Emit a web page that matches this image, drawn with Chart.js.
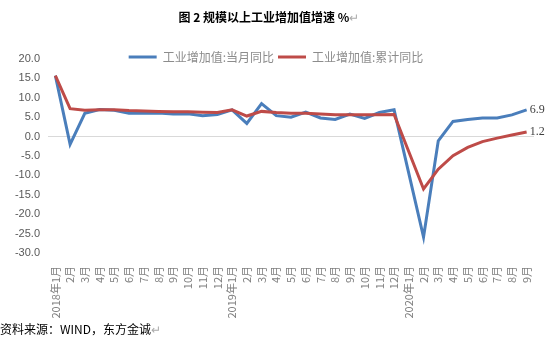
<!DOCTYPE html>
<html>
<head>
<meta charset="utf-8">
<script src="https://cdn.jsdelivr.net/npm/chart.js@4/dist/chart.umd.min.js"></script>
<style>
  body { margin: 0; background: #fff; }
  #wrap { position: relative; width: 550px; height: 361px; }
  #title { position: absolute; left: 0; top: 9px; width: 538px; text-align: center;
           font: bold 12px "Noto Sans CJK SC", sans-serif; line-height: 16px; color: #000; }
  #source { position: absolute; left: 0; top: 321px;
            font: 12px "Noto Sans CJK SC", sans-serif; line-height: 16px; color: #000; }
  .mark { color: #aaa; font-weight: normal; }
</style>
</head>
<body>
<div id="wrap">
  <canvas id="chart" width="550" height="361"></canvas>
  <div id="title">图 2 规模以上工业增加值增速 %<span class="mark">↵</span></div>
  <div id="source">资料来源：WIND，东方金诚<span class="mark">↵</span></div>
</div>
<script>
// 横轴月份
const months = [
    '2018年1月', '2月', '3月', '4月', '5月', '6月', '7月', '8月', '9月', '10月', '11月', '12月',
    '2019年1月', '2月', '3月', '4月', '5月', '6月', '7月', '8月', '9月', '10月', '11月', '12月',
    '2020年1月', '2月', '3月', '4月', '5月', '6月', '7月', '8月', '9月'
];

// 工业增加值:当月同比
const monthlyYoY = [
    15.7, -2.0, 6.0, 7.0, 6.8, 6.0, 6.0, 6.1, 5.8, 5.9, 5.4, 5.7,
    6.9, 3.4, 8.5, 5.4, 5.0, 6.3, 4.8, 4.4, 5.8, 4.7, 6.2, 6.9,
    null, -25.9, -1.1, 3.9, 4.4, 4.8, 4.8, 5.6, 6.9
];

// 工业增加值:累计同比
const cumulativeYoY = [
    15.7, 7.2, 6.8, 6.9, 6.9, 6.7, 6.6, 6.5, 6.4, 6.4, 6.3, 6.2,
    6.9, 5.3, 6.5, 6.2, 6.0, 6.0, 5.8, 5.6, 5.6, 5.6, 5.6, 5.7,
    null, -13.5, -8.4, -4.9, -2.8, -1.3, -0.4, 0.4, 1.2
];

const yMin = -30, yMax = 20, yStep = 5;

// 最后一个点旁边的数值标签
const endLabels = {
    id: 'endLabels',
    afterDatasetsDraw(chart) {
        const ctx = chart.ctx;
        chart.data.datasets.forEach((ds, i) => {
            const meta = chart.getDatasetMeta(i);
            const pt = meta.data[meta.data.length - 1];
            const v = ds.data[ds.data.length - 1];
            ctx.save();
            ctx.font = '12px "Liberation Serif", serif';
            ctx.fillStyle = '#404040';
            ctx.textBaseline = 'middle';
            ctx.textAlign = 'left';
            ctx.fillText(v.toFixed(1), pt.x + 3, pt.y);
            ctx.restore();
        });
    }
};

// 图例移到绘图区上方
const legendShift = {
    id: 'legendShift',
    afterLayout(chart) {
        const lg = chart.legend;
        if (!lg) return;
        lg.left += 9; lg.right += 9;
        lg.top += 14; lg.bottom += 14;
    }
};

const ctx = document.getElementById('chart').getContext('2d');
new Chart(ctx, {
    type: 'line',
    data: {
        labels: months,
        datasets: [{
            label: '工业增加值:当月同比',
            data: monthlyYoY,
            borderColor: '#4a7ebb',
            backgroundColor: '#4a7ebb',
            borderWidth: 3,
            pointRadius: 0,
            tension: 0,
            spanGaps: true,
            order: 1
        }, {
            label: '工业增加值:累计同比',
            data: cumulativeYoY,
            borderColor: '#be4b48',
            backgroundColor: '#be4b48',
            borderWidth: 3,
            pointRadius: 0,
            tension: 0,
            spanGaps: true,
            order: 0
        }]
    },
    options: {
        responsive: false,
        animation: false,
        layout: { padding: { left: 0, right: 16, top: 33, bottom: 0 } },
        plugins: {
            title: { display: false },
            tooltip: { enabled: false },
            legend: {
                position: 'top',
                labels: {
                    usePointStyle: true,
                    pointStyle: 'line',
                    pointStyleWidth: 28,
                    padding: 4,
                    color: '#8c8c8c',
                    font: { family: '"Noto Sans CJK SC", sans-serif', size: 12 },
                    sort: (a, b) => a.datasetIndex - b.datasetIndex
                }
            }
        },
        scales: {
            x: {
                offset: true,
                grid: { display: false },
                border: { display: false },
                afterFit: s => { s.height = 108; },
                ticks: {
                    autoSkip: false,
                    maxRotation: 90,
                    minRotation: 90,
                    padding: 5,
                    color: '#7f7f7f',
                    font: { family: '"Noto Sans CJK SC", sans-serif', size: 11 }
                }
            },
            y: {
                min: yMin,
                max: yMax,
                afterFit: s => { s.width = 48; },
                border: { display: false },
                grid: {
                    drawTicks: false,
                    color: c => (c.tick && c.tick.value === 0) ? '#d9d9d9' : 'rgba(0,0,0,0)'
                },
                ticks: {
                    stepSize: yStep,
                    padding: 8,
                    color: '#595959',
                    font: { family: '"Liberation Sans", sans-serif', size: 11 },
                    callback: v => v.toFixed(1)
                }
            }
        }
    },
    plugins: [endLabels, legendShift]
});
</script>
</body>
</html>
